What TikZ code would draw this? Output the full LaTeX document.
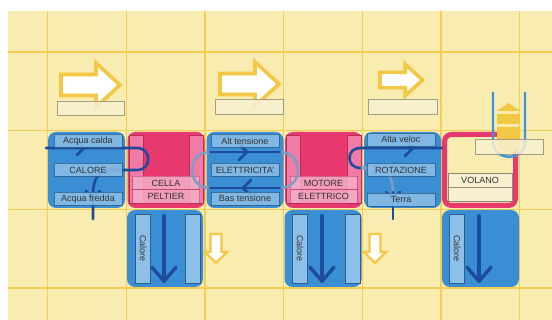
\documentclass[tikz,border=0pt]{standalone}
\usepackage{fontspec}
\setmainfont{Liberation Sans}
\usetikzlibrary{calc}
\definecolor{bgY}{HTML}{F9ECB1}
\definecolor{gridY}{HTML}{F6CD50}
\definecolor{arrY}{HTML}{F4C744}
\definecolor{blueB}{HTML}{3A8ED3}
\definecolor{lblue}{HTML}{8CC0E8}
\definecolor{lblueD}{HTML}{2F5F86}
\definecolor{navy}{HTML}{1E4C9C}
\definecolor{navyL}{HTML}{7F9CC6}
\definecolor{pinkB}{HTML}{E8396E}
\definecolor{pinkL}{HTML}{F07BA7}
\definecolor{pinkLL}{HTML}{F4AFCA}
\definecolor{pinkD}{HTML}{B82D58}
\definecolor{beige}{HTML}{F8F0D0}
\definecolor{beigeD}{HTML}{8E8A78}
\definecolor{txt}{HTML}{333333}
\definecolor{tubeB}{HTML}{3D94DB}
\definecolor{yelB}{HTML}{F2C744}
\newcommand\lbfont{\fontsize{9}{10}\selectfont}
\begin{document}
\begin{tikzpicture}[x=1pt,y=-1pt,
  gridln/.style={draw=gridY,line width=1.4},
  blk/.style={fill=blueB,rounded corners=8,minimum width=77,minimum height=76,inner sep=0},
  pblk/.style={fill=pinkB,rounded corners=8,minimum width=77,minimum height=76,inner sep=0},
  lbl/.style={fill=lblue,draw=lblueD,line width=0.5,fill opacity=0.85,draw opacity=0.8,text opacity=1,
    minimum width=68,minimum height=13,inner sep=0,font=\lbfont,text=txt},
  pbar/.style={fill=pinkL,draw=pinkD,line width=0.5,minimum width=14,minimum height=68,inner sep=0},
  plbl/.style={fill=pinkLL,fill opacity=0.85,draw=pinkD,draw opacity=0.5,line width=0.5,text opacity=1,
    minimum width=67,minimum height=13.5,inner sep=0,font=\lbfont,text=txt},
  cbar/.style={fill=lblue,draw=lblueD,line width=0.5,minimum width=69,minimum height=15,inner sep=0,
    font=\lbfont,text=txt},
  circ/.style={draw=navy,line width=2.6,line cap=round,line join=round},
  circL/.style={draw=navyL,line width=2.6,line cap=round,line join=round},
  bigdown/.style={draw=navy,line width=3.4,line cap=round,line join=round},
  outarrow/.style={draw=arrY,line width=3.6,fill=white,line join=miter},
  bbox/.style={fill=beige,fill opacity=0.85,draw=beigeD,draw opacity=0.8,line width=0.6,inner sep=0},
  vol/.style={draw=pinkB,line width=5,fill=bgY,rounded corners=7,minimum width=71,minimum height=71,inner sep=0},
  vlbl/.style={fill=beige,draw=beigeD,line width=0.6,minimum width=64,minimum height=14,inner sep=0,font=\lbfont,text=txt},
  rarrow/.pic={\draw[outarrow] (0,-10.5) -- (35,-10.5) -- (35,-22) -- (59,0) -- (35,22) -- (35,10.5) -- (0,10.5) -- cycle;},
  darrow/.pic={\draw[draw=arrY,line width=2.2,fill=white,line join=miter] (-5.5,0) -- (5.5,0) -- (5.5,18) -- (11,18) -- (0,29) -- (-11,18) -- (-5.5,18) -- cycle;}
]
\useasboundingbox (0,0) rectangle (552,320);
\fill[bgY] (8,11) rectangle (552,320);
\foreach \gx in {47.5,126.2,204.9,283.6,362.3,441,519.7} \draw[gridln] (\gx,11) -- (\gx,320);
\foreach \gy in {52,130.7,209.4,288.1} \draw[gridln] (8,\gy) -- (552,\gy);

% top arrows
\pic at (61,85) {rarrow};
\pic at (220,84) {rarrow};
\pic[scale=0.72] at (380,80) {rarrow};
% small down arrows
\pic at (216,234) {darrow};
\pic at (375,234) {darrow};

% row 1 blocks
\node[blk]  (b1) at (86.5,170) {};
\node[pblk] (p1) at (166,170) {};
\node[blk]  (b2) at (245,170) {};
\node[pblk] (p2) at (323.5,170) {};
\node[blk]  (b3) at (402.5,170) {};
\node[vol]  (vol) at (480,170) {};

% pink block details
\node[pbar] (p1l) at ($(p1)+(-29.5,-1)$) {};
\node[pbar] (p1r) at ($(p1)+(30,-1)$) {};
\node[plbl] (p1a) at ($(p1)+(0,13)$) {CELLA};
\node[plbl] (p1b) at ($(p1)+(0,26.5)$) {PELTIER};
\node[pbar] (p2l) at ($(p2)+(-30.5,-1)$) {};
\node[pbar] (p2r) at ($(p2)+(31,-1)$) {};
\node[plbl] (p2a) at ($(p2)+(0,13)$) {MOTORE};
\node[plbl] (p2b) at ($(p2)+(0,26.5)$) {ELETTRICO};

% circuit 1
\draw[circ] (46,148) -- (137,148) .. controls (152,148) and (152,170) .. (137,170) -- (112,170)
  .. controls (98,170) and (93,180) .. (93,194) -- (93,219);
\draw[circ] (77,141) -- (84,148) -- (77,155);
\draw[circ] (86,191) -- (93,198) -- (100,191);
% circuit 2
\draw[circL] (280,152) .. controls (304,152) and (304,188) .. (280,188);
\draw[circL] (210,188) .. controls (186,188) and (186,152) .. (210,152);
\draw[circ] (210,152) -- (280,152);
\draw[circ] (280,188) -- (210,188);
\draw[circ] (239,144) -- (247,152) -- (239,160);
\draw[circ] (251,180) -- (243,188) -- (251,196);
% circuit 3
\draw[circL] (360,168) -- (372,168) .. controls (387,168) and (393,178) .. (393,192);
\draw[circ] (442,148) -- (360,148) .. controls (346,148) and (346,168) .. (360,168);
\draw[circ] (393,192) -- (393,219);
\draw[circ] (405,140) -- (413,148) -- (405,156);
\draw[circ] (386,192) -- (393,199) -- (400,192);

% labels
\node[lbl] (l1a) at (88,141) {Acqua calda};
\node[lbl] (l1b) at (88,170) {CALORE};
\node[lbl] (l1c) at (88,199) {Acqua fredda};
\node[lbl] (l2a) at (245,141) {Alt tensione};
\node[lbl] (l2b) at (245,170) {ELETTRICITA'};
\node[lbl] (l2c) at (245,198.5) {Bas tensione};
\node[lbl] (l3a) at (401,139.5) {Alta veloc};
\node[lbl] (l3b) at (401,170) {ROTAZIONE};
\node[lbl] (l3c) at (401,199.5) {Terra};

% row 2 blocks
\node[blk,minimum width=76,minimum height=77] (c1) at (165,248.5) {};
\node[blk,minimum width=77,minimum height=77] (c2) at (323,248.5) {};
\node[blk,minimum width=77,minimum height=77] (c3) at (480.5,248.5) {};
\node[cbar,rotate=-90] (c1l) at ($(c1)+(-22,0)$) {Calore};
\node[cbar,rotate=-90] (c1r) at ($(c1)+(27.5,0)$) {};
\node[cbar,rotate=-90] (c2l) at ($(c2)+(-23,0)$) {Calore};
\node[cbar,rotate=-90] (c2r) at ($(c2)+(29.5,0)$) {};
\node[cbar,rotate=-90] (c3l) at ($(c3)+(-23.5,0)$) {Calore};
\foreach \c/\dx in {c1/-1,c2/-1,c3/-1.5}{
  \draw[bigdown] ($(\c.north)+(\dx,6)$) -- ($(\c.south)+(\dx,-6)$) coordinate (\c tip);
  \draw[bigdown] ($(\c tip)+(-12,-14)$) -- (\c tip) -- ($(\c tip)+(12,-14)$);
}

% volano
\node[vlbl] (vt) at (480,180) {VOLANO};
\node[vlbl] (vu) at (480,194) {};
% tube
\fill[yelB] (497,111) -- (508.5,103) -- (520,111) -- cycle;
\fill[yelB] (497,114) rectangle (520,124);
\fill[yelB] (497,127) -- (520,127) -- (520,142) .. controls (520,157) and (497,157) .. (497,142) -- cycle;
\draw[draw=tubeB,line width=2.4] (493,92) -- (493,141) .. controls (493,162) and (525,162) .. (525,141) -- (525,92);

% beige boxes
\node[bbox,minimum width=67,minimum height=14] (t1) at (90.5,108) {};
\node[bbox,minimum width=68,minimum height=15] (t2) at (249,106.5) {};
\node[bbox,minimum width=69,minimum height=15] (t3) at (402.5,106.5) {};
\node[bbox,minimum width=68,minimum height=15] (t4) at (509,146.5) {};
\end{tikzpicture}
\end{document}
